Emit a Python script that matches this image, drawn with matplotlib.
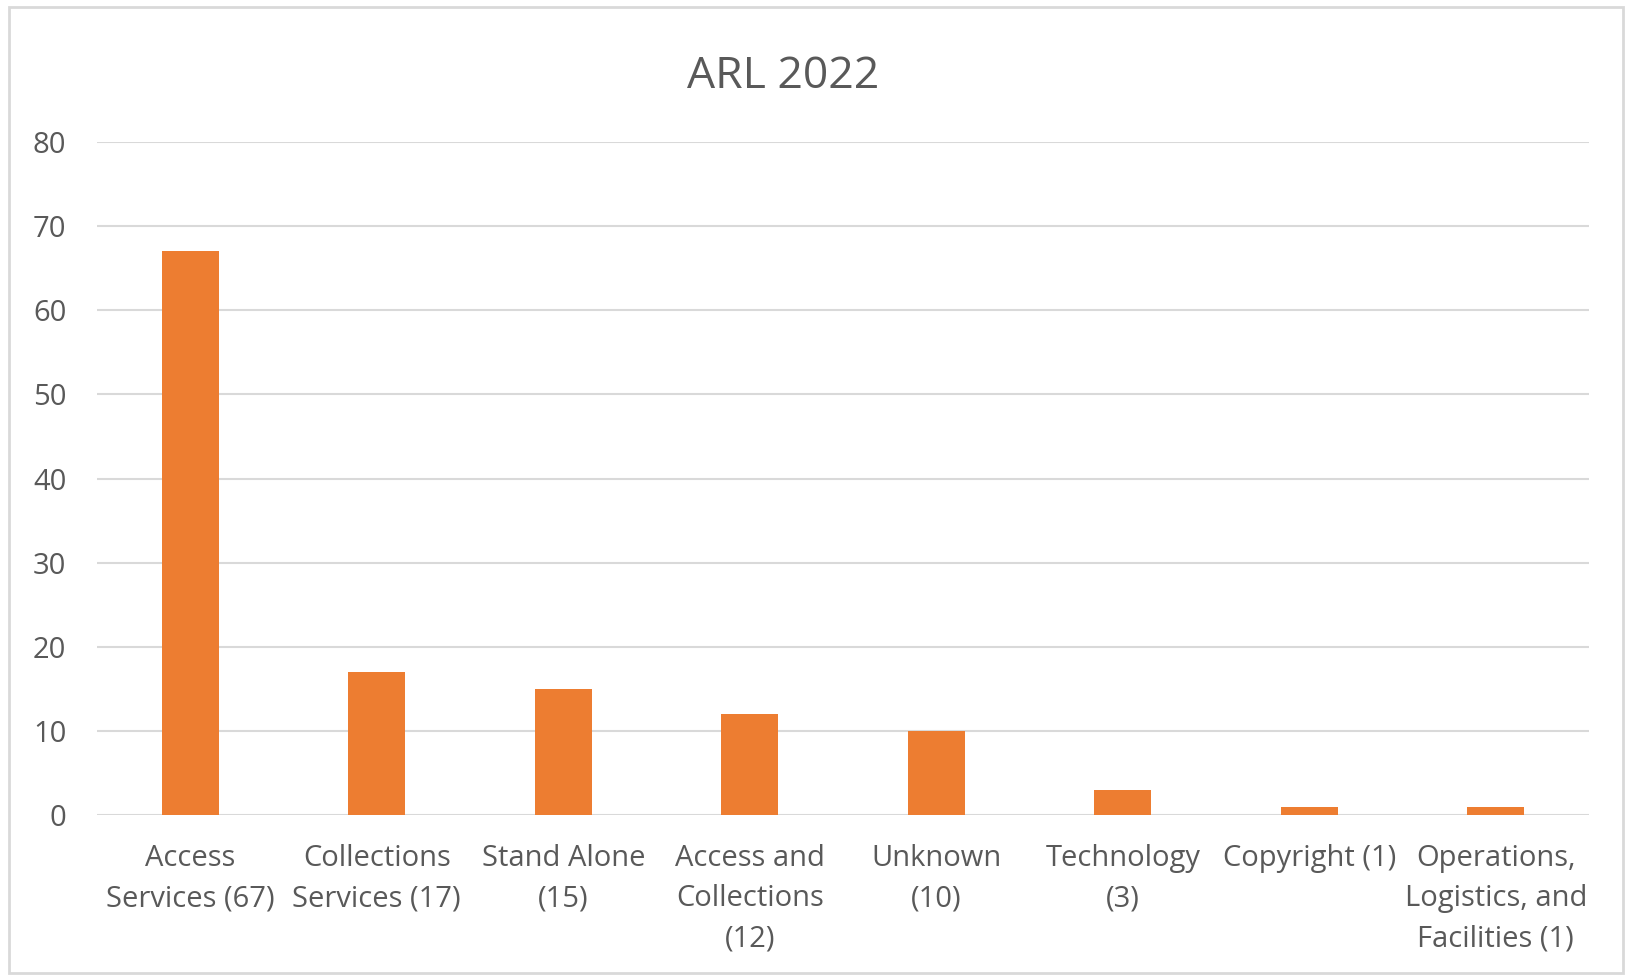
import matplotlib
matplotlib.use("Agg")
import matplotlib.pyplot as plt
from matplotlib.patches import Rectangle

categories = [
    "Access\nServices (67)",
    "Collections\nServices (17)",
    "Stand Alone\n(15)",
    "Access and\nCollections\n(12)",
    "Unknown\n(10)",
    "Technology\n(3)",
    "Copyright (1)",
    "Operations,\nLogistics, and\nFacilities (1)",
]
values = [67, 17, 15, 12, 10, 3, 1, 1]
yticks = [0, 10, 20, 30, 40, 50, 60, 70, 80]
title = "ARL 2022"

W, H = 1626, 975
fig = plt.figure(figsize=(W / 100, H / 100), dpi=100)
plt.rcParams['font.family'] = ['Open Sans', 'DejaVu Sans']
text_color = "#595959"
grid_color = "#D9D9D9"
bar_color = "#ED7D31"

# outer border
fig.patches.append(Rectangle((9 / W, 1 - 973 / H), (1623 - 9) / W, (973 - 7) / H,
                             transform=fig.transFigure, fill=False,
                             edgecolor="#D9D9D9", linewidth=2))

x0, x1 = 97, 1589
ytop, ybot = 142, 815
ax = fig.add_axes([x0 / W, 1 - ybot / H, (x1 - x0) / W, (ybot - ytop) / H])
x = list(range(len(values)))
ax.bar(x, values, width=0.306, color=bar_color, zorder=3)
ax.set_xlim(-0.5, len(values) - 0.5)
ax.set_ylim(0, 80)
ax.set_yticks(yticks)
ax.set_yticklabels([str(v) for v in yticks])
ax.set_xticks(x)
ax.set_xticklabels(categories, linespacing=1.5)
for s in ax.spines.values():
    s.set_visible(False)
ax.grid(axis='y', color=grid_color, linewidth=1.5, zorder=0)
ax.axhline(0, color=grid_color, linewidth=2, zorder=2)
ax.tick_params(axis='both', length=0, labelsize=21, colors=text_color)
ax.tick_params(axis='y', pad=22)
ax.tick_params(axis='x', pad=21)
fig.text(783 / W, 1 - 88 / H, title, ha='center', va='baseline',
         fontsize=32, color=text_color)

fig.savefig("out.png", dpi=100, facecolor="white")
